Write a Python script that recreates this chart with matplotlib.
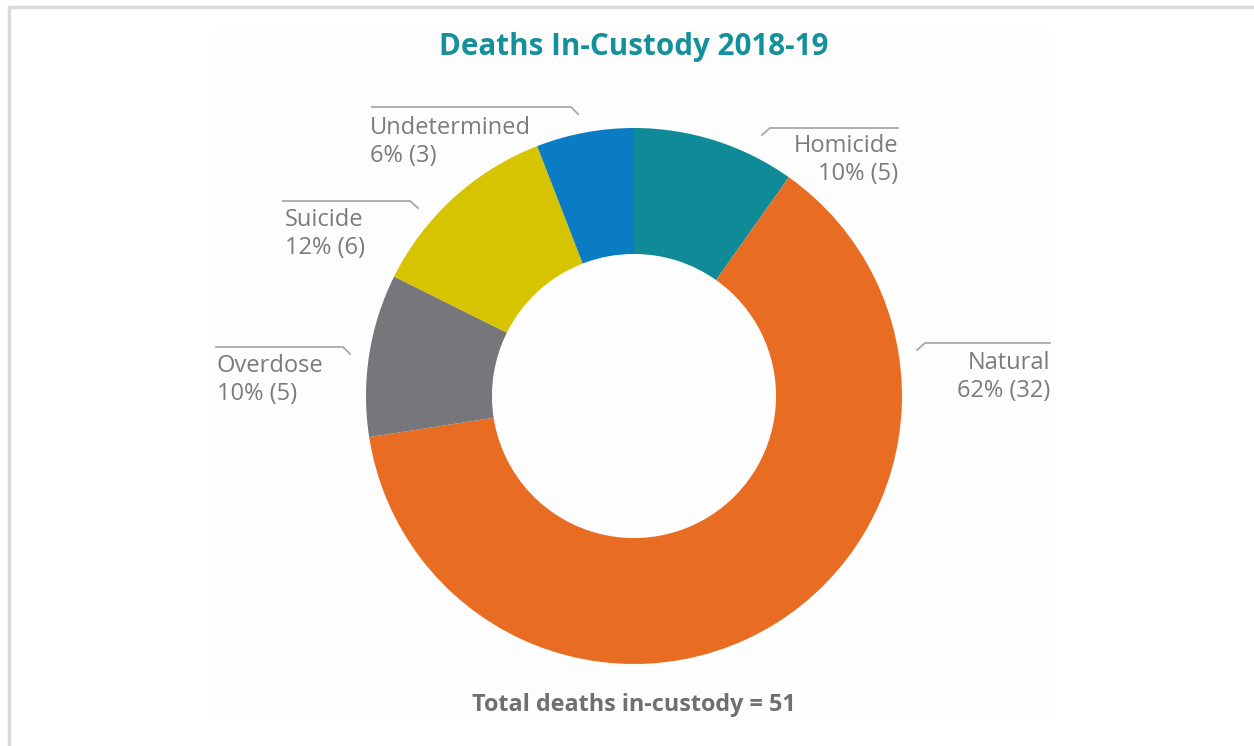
import matplotlib as mpl
mpl.use('Agg')
import matplotlib.pyplot as plt
from matplotlib.patches import Rectangle
from matplotlib.lines import Line2D

categories = ['Homicide', 'Natural', 'Overdose', 'Suicide', 'Undetermined']
counts = [5, 32, 5, 6, 3]
percents = ['10%', '62%', '10%', '12%', '6%']
colors = ['#0f8b98', '#e86d22', '#77777b', '#d6c400', '#0a7cc4']
title = 'Deaths In-Custody 2018-19'
footer = 'Total deaths in-custody = %d' % sum(counts)

plt.rcParams['font.family'] = ['Open Sans', 'DejaVu Sans']

W, H = 1254, 746
fig = plt.figure(figsize=(W / 100, H / 100), dpi=100)

# light frame (left + top only) and chart background
fig.add_artist(Line2D([9 / W, 9 / W, 1], [0, 1 - 7 / H, 1 - 7 / H], transform=fig.transFigure,
                      color='#d9d9d9', lw=2.5, zorder=-2))
fig.add_artist(Rectangle((215 / W, 26 / H), 835 / W, 690 / H, transform=fig.transFigure,
                         facecolor='#fdfdfd', edgecolor='none', zorder=-2))

# donut: centre (634, 396) px, radius 268 px
cx, cy, R = 634, 396, 268
ax = fig.add_axes([(cx - R) / W, (H - cy - R) / H, 2 * R / W, 2 * R / H])
ax.patch.set_visible(False)
ax.pie(counts, colors=colors, startangle=90, counterclock=False,
       wedgeprops=dict(width=0.47, linewidth=0))
ax.set_xlim(-1, 1)
ax.set_ylim(-1, 1)
ax.set_aspect('equal')
ax.axis('off')

def px(x, y):
    return ((x - cx) / R, (cy - y) / R)

lab_color = '#7b7b7b'
line_color = '#a8a8a8'
# label layout: (text x, first line y, align, line x0, line x1, line y, diag end x)
layout = {
    'Homicide': (898, 146, 'right', 770, 898, 128, 762),
    'Natural': (1050, 363, 'right', 925, 1050, 343, 917),
    'Overdose': (217, 366, 'left', 216, 343, 347, 350),
    'Suicide': (285, 220, 'left', 283, 410, 201, 418),
    'Undetermined': (370, 128, 'left', 372, 571, 107, 578),
}
for cat, n, p in zip(categories, counts, percents):
    tx, ty, ha, lx0, lx1, ly, dx = layout[cat]
    x, y = px(tx, ty)
    ax.text(x, y, cat, ha=ha, va='center', fontsize=17, color=lab_color, clip_on=False)
    x, y = px(tx, ty + 28)
    ax.text(x, y, '%s (%d)' % (p, n), ha=ha, va='center', fontsize=17, color=lab_color, clip_on=False)
    if ha == 'right':
        pts = [px(dx, ly + 7), px(lx0, ly), px(lx1, ly)]
    else:
        pts = [px(lx0, ly), px(lx1, ly), px(dx, ly + 7)]
    ax.plot([q[0] for q in pts], [q[1] for q in pts], color=line_color, lw=1.3,
            clip_on=False, solid_joinstyle='miter')

fig.text(cx / W, 1 - 47 / H, title, ha='center', va='center', fontsize=21.3,
         fontweight='bold', color='#13909a')
fig.text(cx / W, 1 - 705 / H, footer, ha='center', va='center', fontsize=16.8,
         fontweight='bold', color='#6f6f6f')

fig.savefig('out.png', dpi=100)
